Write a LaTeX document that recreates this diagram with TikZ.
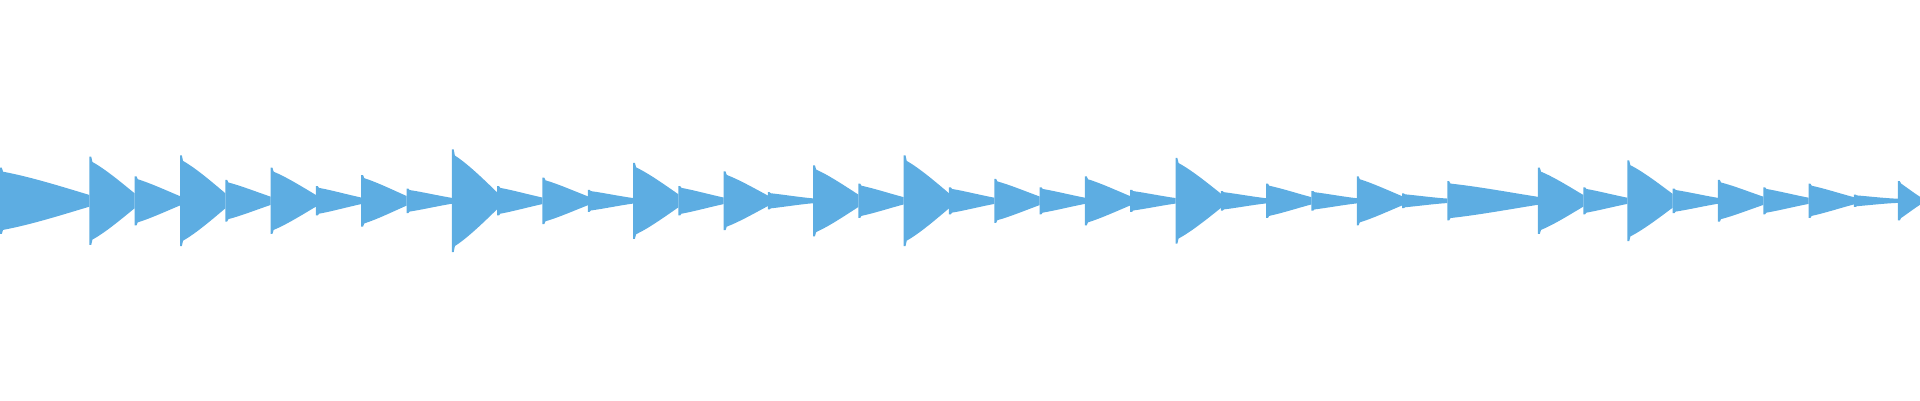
\documentclass[tikz,border=0pt]{standalone}
\definecolor{wavefill}{HTML}{5DADE2}
\tikzset{wave/.style={fill=wavefill, draw=none}}
\begin{document}
\begin{tikzpicture}[x=0.012245cm, y=0.012245cm]
    \useasboundingbox (0,0) rectangle (1568,327);
    % onsets: start / amplitude / end
    \foreach \s/\a/\e in {0/27/73, 73/36/110, 110/20/147, 147/37/184, 184/17/221,
        221/27/258, 258/12/295, 295/21/332, 332/10/369, 369/42/406, 406/12/443,
        443/19/480, 480/9/517, 517/31/554, 554/12/591, 591/24/627, 627/7/664,
        664/29/701, 701/14/738, 738/37/775, 775/11/812, 812/18/849, 849/11/886,
        886/20/923, 923/9/960, 960/35/997, 997/8/1034, 1034/14/1071, 1071/8/1108,
        1108/20/1145, 1145/6/1182, 1182/16/1256, 1256/27/1293, 1293/11/1329,
        1329/33/1366, 1366/10/1403, 1403/17/1440, 1440/11/1477, 1477/14/1514,
        1514/5/1550, 1550/16/1568}
    {
        \fill[wave] (\s,{163+\a}) -- ({\s+1.5},{163+\a}) -- ({\s+2.5},{163+0.88*\a})
            .. controls ({\s+0.35*(\e-\s)},{163+0.72*\a}) and ({\s+0.7*(\e-\s)},{163+0.42*\a}) .. (\e,{163+0.14*\a+1})
            -- (\e,{163-0.14*\a-1})
            .. controls ({\s+0.7*(\e-\s)},{163-0.42*\a}) and ({\s+0.35*(\e-\s)},{163-0.72*\a}) .. ({\s+2.5},{163-0.88*\a})
            -- ({\s+1.5},{163-\a}) -- (\s,{163-\a}) -- cycle;
    }
\end{tikzpicture}
\end{document}
